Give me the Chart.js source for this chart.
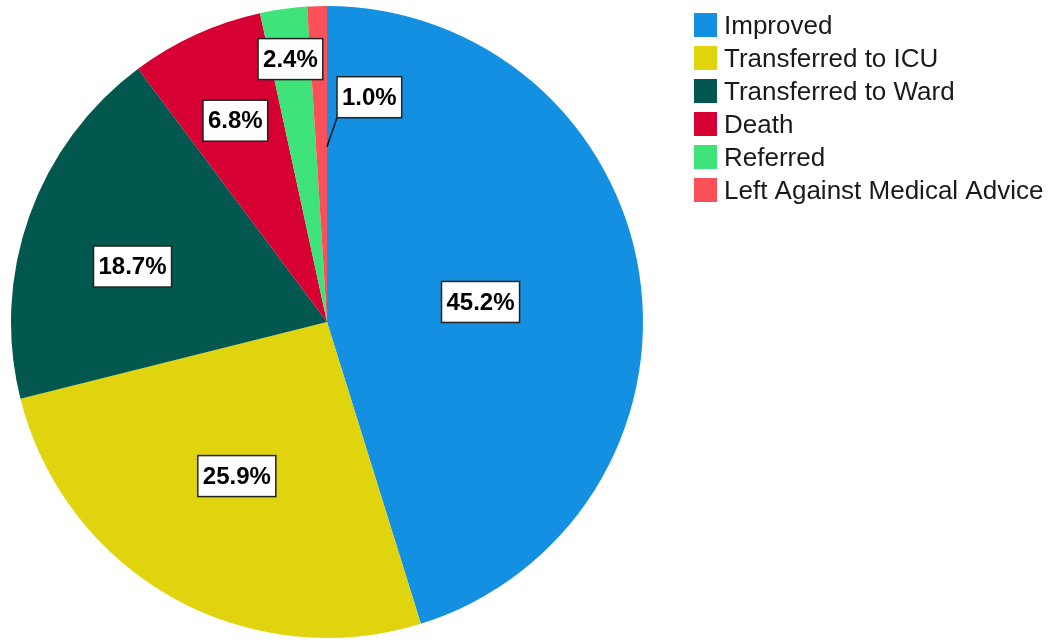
<!DOCTYPE html>
<html>
<head>
<meta charset="utf-8">
<script src="https://cdn.jsdelivr.net/npm/chart.js@4"></script>
<style>
  html, body { margin: 0; padding: 0; background: #fff; }
  #wrap { position: relative; width: 1050px; height: 642px; }
</style>
</head>
<body>
<div id="wrap"><canvas id="pieChart" width="1050" height="642"></canvas></div>
<script>
// categorias y porcentajes
const categories = ["Improved", "Transferred to ICU", "Transferred to Ward", "Death", "Referred", "Left Against Medical Advice"];
const percents = [45.2, 25.9, 18.7, 6.8, 2.4, 1.0];
const sliceColors = ["#1490e3", "#e0d40f", "#02584e", "#d60033", "#3ee37a", "#fa5059"];

// posicion relativa de cada etiqueta (estilo)
const labelRadius = [0.49, 0.565, 0.64, 0.70, 0.84, 0.555];
const labelShiftDeg = [1.2, 1, -3.7, 0, 0, 0];

const labelPlugin = {
  id: "pctLabels",
  afterDatasetsDraw(chart) {
    const ctx = chart.ctx;
    const meta = chart.getDatasetMeta(0);
    ctx.save();
    ctx.font = "bold 24px 'Liberation Sans', Arial, sans-serif";
    ctx.textAlign = "center";
    ctx.textBaseline = "middle";
    meta.data.forEach((arc, i) => {
      const mid = (arc.startAngle + arc.endAngle) / 2 + labelShiftDeg[i] * Math.PI / 180;
      const r = arc.outerRadius * labelRadius[i];
      let x = arc.x + Math.cos(mid) * r;
      let y = arc.y + Math.sin(mid) * r;
      const text = percents[i].toFixed(1) + "%";
      const w = ctx.measureText(text).width + 10;
      const h = 41;
      if (percents[i] < 2) {
        // etiqueta desplazada con linea guia
        x = arc.x;
        const bx = x + 10;
        const by = y - 29;
        ctx.strokeStyle = "#111";
        ctx.lineWidth = 1.5;
        ctx.beginPath();
        ctx.moveTo(x, y);
        ctx.lineTo(bx, by);
        ctx.stroke();
        x = bx + w / 2;
        y = by - h / 2;
      }
      ctx.fillStyle = "#fff";
      ctx.fillRect(x - w / 2, y - h / 2, w, h);
      ctx.strokeStyle = "#222";
      ctx.lineWidth = 1.5;
      ctx.strokeRect(x - w / 2, y - h / 2, w, h);
      ctx.fillStyle = "#000";
      ctx.fillText(text, x, y + 1);
    });
    ctx.restore();
  }
};

const legendPlugin = {
  id: "sideLegend",
  afterDraw(chart) {
    const ctx = chart.ctx;
    ctx.save();
    ctx.font = "26px 'Liberation Sans', Arial, sans-serif";
    ctx.textBaseline = "middle";
    ctx.textAlign = "left";
    categories.forEach((name, i) => {
      const top = 13 + i * 33;
      ctx.fillStyle = sliceColors[i];
      ctx.fillRect(694, top, 23, 24);
      ctx.fillStyle = "#1a1a1a";
      ctx.fillText(name, 724, top + 14);
    });
    ctx.restore();
  }
};

const ctx = document.getElementById("pieChart").getContext("2d");
const pieChart = new Chart(ctx, {
  type: "pie",
  data: {
    labels: categories,
    datasets: [{
      data: percents,
      backgroundColor: sliceColors,
      borderWidth: 0
    }]
  },
  options: {
    responsive: false,
    animation: false,
    layout: { padding: { left: 11, top: 6, right: 407, bottom: 4 } },
    plugins: {
      legend: { display: false },
      tooltip: { enabled: false }
    }
  },
  plugins: [labelPlugin, legendPlugin]
});
</script>
</body>
</html>
